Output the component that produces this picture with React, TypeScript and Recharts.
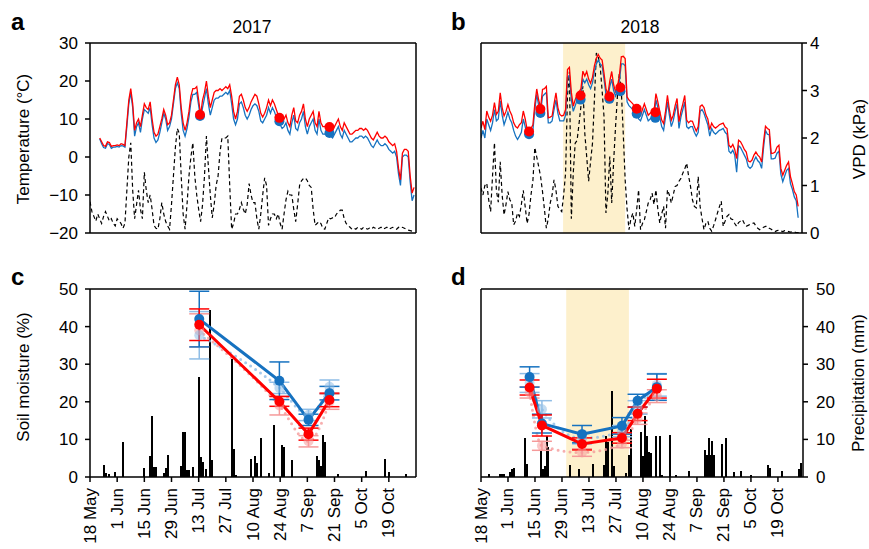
import {
  ComposedChart, Line, Scatter, Bar, XAxis, YAxis, ReferenceArea, ReferenceLine, ErrorBar,
} from "recharts";

const FONT = "'Liberation Sans', Arial, Helvetica, sans-serif";
const RED = "#ff0000";
const BLUE = "#1672c0";
const LIGHT_RED = "#f59a9a";
const LIGHT_BLUE = "#8fbde6";
const SHADE = "#fdf0cc";

// x axis: days since 18 May
const dayTicks = [0, 14, 28, 42, 56, 70, 84, 98, 112, 126, 140, 154];
const dateLabels = ["18 May", "1 Jun", "15 Jun", "29 Jun", "13 Jul", "27 Jul", "10 Aug", "24 Aug", "7 Sep", "21 Sep", "5 Oct", "19 Oct"];
const tempTicks = [-20, -10, 0, 10, 20, 30];
const vpdTicks = [0, 1, 2, 3, 4];
const smTicks = [0, 10, 20, 30, 40, 50];

// 2017 daily temperature, from day 5
const t17Start = 5;
const t17Red = [
  5.0, 4.0, 3.0, 2.8, 4.0, 3.8, 2.8, 3.0, 3.0, 3.2,
  3.0, 3.5, 3.3, 3.0, 9.0, 15.0, 18.0, 14.0, 7.0, 9.0,
  10.0, 8.0, 11.0, 14.0, 13.0, 12.5, 14.5, 10.0, 6.5, 5.5,
  6.0, 8.0, 10.0, 12.5, 11.0, 8.5, 9.0, 11.0, 15.0, 19.0,
  21.0, 19.0, 13.0, 9.0, 7.0, 9.0, 12.0, 16.0, 18.0, 18.0,
  18.5, 15.0, 11.0, 15.0, 17.0, 20.0, 16.0, 13.0, 15.0, 17.0,
  17.5, 17.5, 18.0, 17.5, 18.0, 18.5, 18.0, 19.0, 16.0, 12.0,
  10.0, 12.0, 16.0, 16.5, 15.0, 13.0, 12.0, 13.0, 14.5, 15.5,
  16.5, 16.0, 14.0, 11.5, 10.5, 11.5, 13.0, 15.0, 13.5, 15.0,
  14.0, 12.5, 11.0, 10.0, 9.0, 10.0, 11.0, 9.0, 8.0, 11.0,
  13.0, 9.5, 9.0, 11.0, 12.0, 14.0, 10.0, 8.0, 10.0, 11.0,
  12.0, 9.0, 8.0, 12.0, 9.0, 8.0, 8.0, 8.5, 8.0, 7.5,
  7.0, 8.0, 9.0, 10.0, 8.0, 7.0, 9.0, 8.0, 7.0, 6.0,
  6.0, 6.5, 7.0, 7.0, 7.5, 7.5, 7.0, 7.5, 7.0, 6.0,
  5.0, 4.5, 5.5, 6.5, 5.5, 5.0, 5.0, 5.5, 5.0, 4.0,
  3.5, 3.0, 3.5, 1.5, -3.0, -6.0, 1.0, 2.0, 2.0, 1.5,
  -5.0, -9.5, -8.0,
];
const t17Blue = [
  4.8, 3.5, 2.5, 2.3, 3.5, 3.3, 2.3, 2.6, 2.6, 2.8,
  2.6, 3.0, 2.9, 2.6, 8.0, 14.0, 17.0, 13.0, 5.5, 8.0,
  9.0, 6.5, 10.0, 12.5, 12.0, 11.5, 13.0, 8.5, 5.0, 3.8,
  4.5, 6.5, 9.0, 11.5, 10.0, 7.0, 8.0, 10.0, 14.0, 18.0,
  19.5, 18.0, 11.5, 7.0, 5.5, 7.5, 10.5, 14.5, 16.5, 16.5,
  17.0, 13.5, 10.0, 13.0, 15.5, 18.0, 14.0, 11.0, 13.0, 15.0,
  15.5, 15.5, 16.0, 16.0, 16.5, 17.0, 16.5, 17.5, 14.0, 10.0,
  8.5, 10.0, 14.0, 14.5, 13.0, 11.0, 10.0, 11.0, 12.5, 13.5,
  14.0, 13.5, 12.0, 9.5, 9.0, 10.0, 11.0, 13.0, 11.5, 13.0,
  12.0, 10.5, 9.5, 8.5, 7.5, 8.0, 9.0, 7.0, 6.0, 9.0,
  11.0, 7.5, 7.0, 9.0, 10.0, 12.0, 8.0, 6.0, 8.0, 9.0,
  10.0, 7.0, 6.0, 10.0, 7.0, 6.0, 6.0, 6.5, 6.0, 5.5,
  5.0, 6.0, 7.0, 8.0, 6.0, 5.0, 7.0, 6.0, 5.0, 4.0,
  4.0, 4.5, 5.0, 5.0, 5.5, 5.5, 5.0, 5.5, 5.0, 4.0,
  3.0, 2.5, 3.5, 4.5, 3.5, 3.0, 3.0, 3.5, 3.0, 2.0,
  1.5, 1.0, 1.5, 0.0, -4.5, -7.5, 0.0, 0.5, 0.5, 0.0,
  -6.5, -11.5, -10.0,
];
// 2017 daily VPD (kPa), from day 0
const vpd17 = [
  0.66, 0.45, 0.35, 0.25, 0.4, 0.3, 0.2, 0.35, 0.45, 0.35,
  0.25, 0.3, 0.2, 0.15, 0.3, 0.25, 0.2, 0.1, 0.2, 0.9,
  1.6, 1.9, 0.9, 0.3, 0.6, 0.9, 0.5, 0.3, 1.28, 0.9,
  0.64, 0.8, 0.5, 0.16, 0.1, 0.08, 0.3, 0.64, 0.4, 0.24,
  0.15, 0.08, 0.6, 1.2, 1.8, 2.2, 2.1, 1.2, 0.4, 0.08,
  0.6, 1.2, 1.6, 1.9, 1.2, 0.8, 0.5, 0.24, 0.6, 1.2,
  2.04, 1.4, 0.8, 0.32, 0.6, 1.0, 1.2, 1.7, 2.0, 2.0,
  2.0, 2.04, 1.0, 0.08, 0.2, 0.4, 0.4, 0.5, 0.64, 0.5,
  0.4, 0.6, 1.04, 0.8, 0.64, 0.64, 0.3, 0.08, 0.4, 0.8,
  1.16, 1.0, 0.16, 0.3, 0.4, 0.4, 0.3, 0.4, 0.2, 0.08,
  0.4, 0.7, 0.88, 0.8, 0.8, 0.5, 0.24, 0.6, 1.0, 1.1,
  1.15, 1.16, 1.1, 1.0, 0.96, 0.5, 0.16, 0.2, 0.24, 0.2,
  0.1, 0.08, 0.2, 0.32, 0.3, 0.32, 0.32, 0.4, 0.44, 0.48,
  0.48, 0.3, 0.2, 0.16, 0.12, 0.08, 0.1, 0.08, 0.12, 0.1,
  0.08, 0.12, 0.1, 0.08, 0.1, 0.08, 0.12, 0.1, 0.08, 0.1,
  0.12, 0.08, 0.1, 0.12, 0.08, 0.1, 0.12, 0.1, 0.08, 0.12,
  0.1, 0.12, 0.1, 0.08, 0.06, 0.05, 0.04, 0.02,
];

// 2018 daily temperature, from day 0
const t18Start = 0;
const t18Red = [
  7.6, 9.4, 7.2, 12.1, 10.5, 9.4, 11.0, 14.3, 11.2, 12.0,
  16.9, 13.0, 10.8, 12.0, 13.8, 12.1, 11.0, 9.0, 8.0, 7.6,
  8.5, 9.0, 12.1, 10.0, 7.2, 6.8, 7.5, 8.5, 14.0, 17.9,
  15.0, 13.0, 17.8, 18.0, 18.6, 10.3, 10.5, 10.8, 14.0, 16.9,
  13.0, 11.2, 10.8, 11.0, 12.5, 23.0, 23.6, 17.0, 13.4, 15.1,
  16.5, 17.0, 18.0, 22.6, 21.3, 22.5, 20.5, 19.4, 21.0, 24.0,
  26.0, 27.0, 26.0, 25.5, 22.0, 18.0, 16.5, 20.0, 22.5, 19.0,
  17.2, 18.5, 21.5, 26.4, 26.5, 25.9, 15.8, 15.0, 14.5, 14.0,
  13.0, 12.5, 11.5, 11.0, 12.5, 14.0, 12.5, 11.0, 11.5, 12.0,
  12.0, 16.7, 14.5, 12.0, 9.7, 8.8, 12.0, 16.2, 12.5, 9.7,
  11.0, 13.5, 15.4, 9.3, 12.0, 14.0, 16.2, 9.7, 9.0, 9.5,
  9.4, 8.0, 6.8, 8.0, 13.3, 13.7, 13.0, 11.1, 10.0, 7.2,
  8.9, 8.0, 7.6, 8.0, 8.5, 8.7, 8.9, 7.9, 7.5, 3.1,
  2.5, 3.3, 2.0, -0.4, 4.4, 4.0, 3.1, 2.0, 1.3, -1.0,
  -1.3, -0.8, 0.5, 1.3, 0.5, 0.0, -1.3, 4.0, 8.1, 7.5,
  7.2, 0.9, 1.0, 1.3, 2.6, 3.1, -3.0, -4.8, -3.5, -2.2,
  -1.3, -5.2, -7.0, -9.1, -10.0, -13.0,
];
const t18Blue = [
  5.0, 7.0, 5.0, 10.0, 8.5, 7.0, 9.0, 12.5, 9.5, 10.0,
  14.8, 11.0, 8.5, 10.0, 11.8, 10.0, 9.0, 7.0, 5.5, 4.6,
  5.5, 6.5, 10.0, 8.0, 5.5, 5.5, 6.0, 7.0, 12.5, 16.5,
  13.5, 11.8, 16.0, 16.5, 17.0, 9.0, 9.0, 9.5, 12.5, 15.0,
  11.5, 9.5, 9.5, 9.5, 11.0, 21.0, 21.5, 15.0, 12.0, 13.5,
  15.0, 15.5, 16.5, 20.5, 19.5, 20.5, 19.0, 18.0, 19.5, 22.5,
  24.5, 25.5, 24.5, 24.0, 20.5, 16.5, 15.5, 18.5, 20.5, 17.5,
  16.0, 17.3, 20.0, 24.5, 24.5, 24.0, 14.5, 13.5, 13.0, 12.5,
  11.5, 11.5, 10.0, 9.5, 11.0, 12.5, 11.0, 9.5, 10.0, 10.5,
  10.5, 15.0, 13.0, 10.5, 8.0, 7.0, 10.5, 14.5, 11.0, 8.0,
  9.5, 12.0, 14.0, 7.5, 10.5, 12.5, 14.5, 8.0, 7.5, 8.0,
  8.0, 6.5, 5.5, 6.5, 12.0, 12.5, 11.5, 10.0, 8.5, 5.5,
  7.5, 6.5, 6.0, 6.5, 7.0, 7.2, 7.5, 6.5, 6.0, 1.5,
  1.0, 1.8, 0.5, -4.0, 3.0, 2.5, 1.5, 0.5, -0.5, -2.5,
  -3.0, -2.5, -1.0, 0.0, -1.0, -1.5, -3.0, 2.5, 7.0, 6.0,
  5.8, -0.5, -0.5, -0.3, 1.0, 1.5, -4.5, -6.5, -5.0, -3.5,
  -3.0, -7.0, -8.5, -10.5, -11.5, -16.0,
];
const vpd18 = [
  0.95, 0.8, 1.0, 1.05, 0.7, 0.45, 1.2, 1.9, 0.9, 0.65,
  1.5, 0.8, 0.38, 0.6, 0.87, 0.7, 0.63, 0.17, 0.25, 0.42,
  0.35, 0.6, 0.9, 0.55, 0.2, 0.4, 0.8, 1.1, 1.8, 1.6,
  1.4, 1.19, 0.87, 0.5, 0.1, 0.3, 0.63, 0.8, 1.12, 0.9,
  0.56, 0.5, 0.45, 0.8, 1.26, 2.9, 3.4, 0.3, 1.26, 1.89,
  1.95, 2.3, 2.67, 3.09, 2.1, 1.6, 1.09, 1.5, 1.89, 2.8,
  3.79, 3.7, 3.51, 3.0, 2.45, 0.42, 0.84, 1.61, 0.63, 1.5,
  2.24, 2.9, 3.37, 3.0, 2.1, 1.12, 0.5, 0.07, 0.3, 0.42,
  0.14, 0.5, 0.91, 0.07, 0.2, 0.28, 0.45, 0.63, 0.7, 0.84,
  0.6, 0.91, 0.5, 0.21, 0.4, 0.56, 0.1, 0.91, 0.8, 0.63,
  0.8, 0.98, 1.0, 1.09, 1.15, 1.26, 1.35, 1.47, 1.2, 0.98,
  0.7, 0.56, 0.53, 1.19, 0.56, 0.3, 0.07, 0.2, 0.25, 0.1,
  0.04, 0.15, 0.28, 0.42, 0.55, 0.67, 0.14, 0.25, 0.35, 0.39,
  0.3, 0.28, 0.2, 0.14, 0.22, 0.25, 0.28, 0.2, 0.14, 0.16,
  0.18, 0.2, 0.21, 0.15, 0.1, 0.07, 0.1, 0.12, 0.14, 0.14,
  0.1, 0.08, 0.05, 0.03, 0.05, 0.06, 0.04, 0.03, 0.05, 0.04,
  0.03, 0.02, 0.03, 0.02, 0.01, 0.01, 0.0,
];

// temperature at the soil sampling dates (top panels)
const dot17Days = [56.7, 97.6, 123.4];
const dot17Red = [11.1, 10.3, 7.9];
const dot17Blue = [10.8, 9.4, 6.3];
const dot18Days = [25, 30.9, 51.8, 66.8, 72.5, 81, 90.7];
const dot18Red = [6.7, 12.6, 16.2, 15.9, 18.3, 12.7, 11.8];
const dot18Blue = [6.0, 11.6, 15.1, 15.3, 17.3, 11.4, 10.3];

// soil moisture (%)
const sm17Days = [56.3, 97.6, 112.6, 123.4];
const sm17Blue = [42.0, 25.6, 15.2, 22.3];
const sm17BlueErr = [7.4, 5.0, 1.5, 1.8];
const sm17Red = [40.5, 20.1, 11.4, 20.5];
const sm17RedErr = [4.2, 1.3, 1.6, 1.8];
const sm17BlueLight = [37.7, 23.7, 16.5, 24.0];
const sm17BlueLightErr = [6.3, 1.5, 1.5, 1.8];
const sm17RedLight = [39.0, 19.0, 9.5, 20.0];
const sm17RedLightErr = [4.4, 2.5, 1.5, 2.0];

const sm18Days = [25.2, 31.6, 52.4, 73.1, 81.2, 91.2];
const sm18Blue = [26.6, 14.2, 11.4, 13.6, 20.3, 23.9];
const sm18BlueErr = [2.7, 2.5, 2.3, 2.2, 1.7, 3.5];
const sm18Red = [23.8, 13.7, 8.8, 10.4, 16.8, 23.5];
const sm18RedErr = [2.0, 2.8, 1.6, 1.4, 1.8, 2.5];
const sm18BlueLight = [25.0, 18.0, 10.3, 12.2, 18.5, 24.5];
const sm18BlueLightErr = [2.5, 2.3, 1.5, 1.5, 1.8, 3.0];
const sm18RedLight = [22.5, 8.3, 6.5, 8.8, 15.5, 21.5];
const sm18RedLightErr = [1.5, 1.2, 1.0, 1.0, 1.5, 1.7];

// daily precipitation (mm), [day, mm]
const rain17: [number, number][] = [
  [7, 3.1], [8, 1.0], [10, 0.8], [13, 1.4], [17, 9.3], [28, 2.3], [31, 5.5], [32, 16.3], [33, 2.6], [34, 2.6],
  [38, 1.0], [39, 2.3], [40, 5.8], [47, 2.9], [48, 12.0], [49, 12.0], [50, 1.9], [51, 1.9], [53, 2.6], [56, 26.6],
  [57, 5.3], [58, 4.1], [60, 2.1], [62, 44.5], [63, 4.5], [73, 31.3], [74, 7.4], [75, 0.6], [83, 4.8], [85, 5.5],
  [86, 3.8], [88, 10.5], [92, 1.0], [95, 13.8], [99, 8.4], [100, 7.9], [104, 4.5], [117, 5.5], [118, 4.5], [119, 2.9],
  [120, 11.2], [121, 9.3], [128, 0.8], [142, 1.7], [152, 4.8], [154, 1.3], [163, 0.8],
];
const rain18: [number, number][] = [
  [4, 0.9], [10, 0.9], [11, 0.9], [12, 0.9], [15, 1.2], [16, 2.1], [17, 2.5], [23, 10.4], [24, 3.5], [31, 7.3],
  [32, 2.0], [33, 3.0], [34, 11.0], [35, 8.0], [46, 3.3], [51, 2.0], [58, 3.5], [64, 3.2], [65, 10.8], [66, 9.3],
  [68, 22.8], [69, 3.0], [75, 1.1], [77, 5.9], [78, 12.8], [83, 12.0], [84, 5.5], [85, 16.1], [86, 11.0], [87, 6.6],
  [88, 6.3], [91, 10.8], [93, 11.0], [94, 0.5], [98, 11.3], [101, 0.5], [108, 1.5], [116, 7.3], [117, 5.8], [118, 10.4],
  [119, 5.8], [120, 9.7], [121, 5.8], [125, 8.8], [127, 10.4], [131, 1.3], [135, 1.5], [140, 0.5], [149, 3.2], [150, 2.4],
  [156, 1.5], [165, 2.0], [166, 3.6],
];

const allDays = Array.from({ length: 169 }, (_, d) => d);

function topRows(start: number, red: number[], blue: number[], vpd: number[]) {
  return allDays.map((d) => ({
    d,
    red: red[d - start] ?? null,
    blue: blue[d - start] ?? null,
    vpd: vpd[d] ?? null,
  }));
}
function rainRows(rain: [number, number][]) {
  const m = new Map(rain);
  return allDays.map((d) => ({ d, p: m.get(d) ?? null }));
}
const pts = (days: number[], vals: number[]) => days.map((d, i) => ({ d, v: vals[i] }));
const smPts = (days: number[], vals: number[], errs: number[]) =>
  days.map((d, i) => ({ d, v: vals[i], e: errs[i] }));

const top17 = topRows(t17Start, t17Red, t17Blue, vpd17);
const top18 = topRows(t18Start, t18Red, t18Blue, vpd18);
const bot17 = rainRows(rain17);
const bot18 = rainRows(rain18);

const axisStyle = { stroke: "#000", strokeWidth: 1.5 };
const tickStyle = { fontSize: 17, fill: "#000", fontFamily: FONT };
const minus = (v: number) => String(v).replace("-", "\u2212");

function DateTick(props: any) {
  const { x, y, payload } = props;
  const label = dateLabels[dayTicks.indexOf(payload.value)];
  return (
    <text x={x} y={y} transform={`rotate(-90 ${x} ${y})`} textAnchor="end" dominantBaseline="central"
      fontSize={17} fontFamily={FONT} fill="#000">
      {label}
    </text>
  );
}

const dotShape = (fill: string) => (p: any) => <circle cx={p.cx} cy={p.cy} r={5} fill={fill} />;

// thin daily rain bar, centred on its day
const rainBar = (p: any) =>
  p.height > 0 ? (
    <rect x={Math.round(p.x + p.width / 2 - 1)} y={p.y} width={2} height={p.height} fill="#000" shapeRendering="crispEdges" />
  ) : null;

type TopProps = {
  data: any[];
  xMax: number;
  leftW: number;
  rightW: number;
  width: number;
  leftLabels: boolean;
  rightLabels: boolean;
  shade?: [number, number];
  redDots: { d: number; v: number }[];
  blueDots: { d: number; v: number }[];
};

function TopPanel(p: TopProps) {
  return (
    <ComposedChart width={p.width} height={215} data={p.data} margin={{ top: 8, right: 0, bottom: 0, left: 0 }}>
      {p.shade && (
        <ReferenceArea yAxisId="l" x1={p.shade[0]} x2={p.shade[1]} fill={SHADE} fillOpacity={1} stroke="none" />
      )}
      <XAxis dataKey="d" type="number" domain={[0, p.xMax]} ticks={dayTicks} allowDataOverflow
        tick={false} tickLine={false} axisLine={axisStyle} height={17} />
      <YAxis yAxisId="l" domain={[-20, 30]} ticks={tempTicks} interval={0} width={p.leftW} allowDataOverflow
        tick={p.leftLabels ? tickStyle : false} tickFormatter={minus} tickSize={5} tickMargin={7}
        axisLine={axisStyle} tickLine={axisStyle} />
      <YAxis yAxisId="r" orientation="right" domain={[0, 4]} ticks={vpdTicks} interval={0} width={p.rightW} allowDataOverflow
        tick={p.rightLabels ? tickStyle : false} tickSize={5} tickMargin={3}
        axisLine={axisStyle} tickLine={axisStyle} />
      <ReferenceLine yAxisId="l" y={30} stroke="#000" strokeWidth={1.5} />
      <Line yAxisId="r" dataKey="vpd" stroke="#000" strokeWidth={1.2} strokeDasharray="4 3" dot={false}
        isAnimationActive={false} />
      <Line yAxisId="l" dataKey="blue" stroke={BLUE} strokeWidth={1.3} dot={false} isAnimationActive={false} />
      <Line yAxisId="l" dataKey="red" stroke={RED} strokeWidth={1.3} dot={false} isAnimationActive={false} />
      <Scatter yAxisId="l" data={p.blueDots} dataKey="v" shape={dotShape(BLUE)} isAnimationActive={false} />
      <Scatter yAxisId="l" data={p.redDots} dataKey="v" shape={dotShape(RED)} isAnimationActive={false} />
    </ComposedChart>
  );
}

type BotProps = {
  data: any[];
  xMax: number;
  leftW: number;
  rightW: number;
  width: number;
  leftLabels: boolean;
  rightLabels: boolean;
  rightMargin: number;
  shade?: [number, number];
  blue: any[];
  red: any[];
  blueLight: any[];
  redLight: any[];
};

function BottomPanel(p: BotProps) {
  return (
    <ComposedChart width={p.width} height={269} data={p.data} margin={{ top: 9, right: 0, bottom: 0, left: 0 }}>
      {p.shade && (
        <ReferenceArea yAxisId="l" x1={p.shade[0]} x2={p.shade[1]} fill={SHADE} fillOpacity={1} stroke="none" />
      )}
      <XAxis dataKey="d" type="number" domain={[0, p.xMax]} ticks={dayTicks} interval={0} allowDataOverflow
        tick={<DateTick />} tickSize={5} tickMargin={6} axisLine={axisStyle} tickLine={axisStyle} height={72} />
      <YAxis yAxisId="l" domain={[0, 50]} ticks={smTicks} interval={0} width={p.leftW} allowDataOverflow
        tick={p.leftLabels ? tickStyle : false} tickSize={5} tickMargin={7}
        axisLine={axisStyle} tickLine={axisStyle} />
      <YAxis yAxisId="r" orientation="right" domain={[0, 50]} ticks={smTicks} interval={0} width={p.rightW} allowDataOverflow
        tick={p.rightLabels ? tickStyle : false} tickSize={5} tickMargin={p.rightMargin}
        axisLine={axisStyle} tickLine={axisStyle} />
      <ReferenceLine yAxisId="l" y={50} stroke="#000" strokeWidth={1.5} />
      <Bar yAxisId="r" dataKey="p" fill="#000" shape={rainBar} isAnimationActive={false} />
      <Line yAxisId="l" data={p.redLight} dataKey="v" type="monotone" stroke={LIGHT_RED} strokeWidth={3}
        strokeDasharray="0 6" strokeLinecap="round" strokeOpacity={0.8}
        dot={{ r: 5, fill: LIGHT_RED, fillOpacity: 0.55, stroke: "none" }} isAnimationActive={false}>
        <ErrorBar dataKey="e" direction="y" width={10} stroke={LIGHT_RED} strokeWidth={1.5} />
      </Line>
      <Line yAxisId="l" data={p.blueLight} dataKey="v" type="monotone" stroke={LIGHT_BLUE} strokeWidth={3}
        strokeDasharray="0 6" strokeLinecap="round" strokeOpacity={0.8}
        dot={{ r: 5, fill: LIGHT_BLUE, fillOpacity: 0.55, stroke: "none" }} isAnimationActive={false}>
        <ErrorBar dataKey="e" direction="y" width={10} stroke={LIGHT_BLUE} strokeWidth={1.5} />
      </Line>
      <Line yAxisId="l" data={p.blue} dataKey="v" stroke={BLUE} strokeWidth={3}
        dot={{ r: 5, fill: BLUE, stroke: "none" }} isAnimationActive={false}>
        <ErrorBar dataKey="e" direction="y" width={10} stroke={BLUE} strokeWidth={1.5} />
      </Line>
      <Line yAxisId="l" data={p.red} dataKey="v" stroke={RED} strokeWidth={3}
        dot={{ r: 5, fill: RED, stroke: "none" }} isAnimationActive={false}>
        <ErrorBar dataKey="e" direction="y" width={10} stroke={RED} strokeWidth={1.5} />
      </Line>
    </ComposedChart>
  );
}

export default function App() {
  const txt = { fontFamily: FONT, fill: "#000" };
  return (
    <div style={{ position: "absolute", left: 0, top: 0, width: 869, height: 549, background: "#fff", overflow: "hidden" }}>
      <div style={{ position: "absolute", left: 0, top: 35 }}>
        <TopPanel data={top17} xMax={168} width={440} leftW={90} rightW={24} leftLabels rightLabels={false}
          redDots={pts(dot17Days, dot17Red)} blueDots={pts(dot17Days, dot17Blue)} />
      </div>
      <div style={{ position: "absolute", left: 440, top: 35 }}>
        <TopPanel data={top18} xMax={167} width={429} leftW={41} rightW={67} leftLabels={false} rightLabels
          shade={[42.7, 75]} redDots={pts(dot18Days, dot18Red)} blueDots={pts(dot18Days, dot18Blue)} />
      </div>
      <div style={{ position: "absolute", left: 0, top: 280 }}>
        <BottomPanel data={bot17} xMax={168} width={440} leftW={90} rightW={24} leftLabels rightLabels={false}
          rightMargin={3}
          blue={smPts(sm17Days, sm17Blue, sm17BlueErr)} red={smPts(sm17Days, sm17Red, sm17RedErr)}
          blueLight={smPts(sm17Days, sm17BlueLight, sm17BlueLightErr)}
          redLight={smPts(sm17Days, sm17RedLight, sm17RedLightErr)} />
      </div>
      <div style={{ position: "absolute", left: 440, top: 280 }}>
        <BottomPanel data={bot18} xMax={167} width={429} leftW={41} rightW={66} leftLabels={false} rightLabels
          rightMargin={8} shade={[44.2, 76.7]}
          blue={smPts(sm18Days, sm18Blue, sm18BlueErr)} red={smPts(sm18Days, sm18Red, sm18RedErr)}
          blueLight={smPts(sm18Days, sm18BlueLight, sm18BlueLightErr)}
          redLight={smPts(sm18Days, sm18RedLight, sm18RedLightErr)} />
      </div>
      <svg width={869} height={549} style={{ position: "absolute", left: 0, top: 0, pointerEvents: "none" }}>
        <text x={11} y={30} fontSize={24} fontWeight="bold" {...txt}>a</text>
        <text x={451} y={30} fontSize={24} fontWeight="bold" {...txt}>b</text>
        <text x={11} y={285} fontSize={24} fontWeight="bold" {...txt}>c</text>
        <text x={451} y={285} fontSize={24} fontWeight="bold" {...txt}>d</text>
        <text x={252} y={33} fontSize={17.5} textAnchor="middle" {...txt}>2017</text>
        <text x={640} y={33} fontSize={17.5} textAnchor="middle" {...txt}>2018</text>
        <text x={29} y={139} fontSize={17} textAnchor="middle" transform="rotate(-90 29 139)" {...txt}>Temperature (°C)</text>
        <text x={29} y={377} fontSize={17} textAnchor="middle" transform="rotate(-90 29 377)" {...txt}>Soil moisture (%)</text>
        <text x={865} y={139} fontSize={17} textAnchor="middle" transform="rotate(-90 865 139)" {...txt}>VPD (kPa)</text>
        <text x={864} y={383} fontSize={17} textAnchor="middle" transform="rotate(-90 864 383)" {...txt}>Precipitation (mm)</text>
      </svg>
    </div>
  );
}
